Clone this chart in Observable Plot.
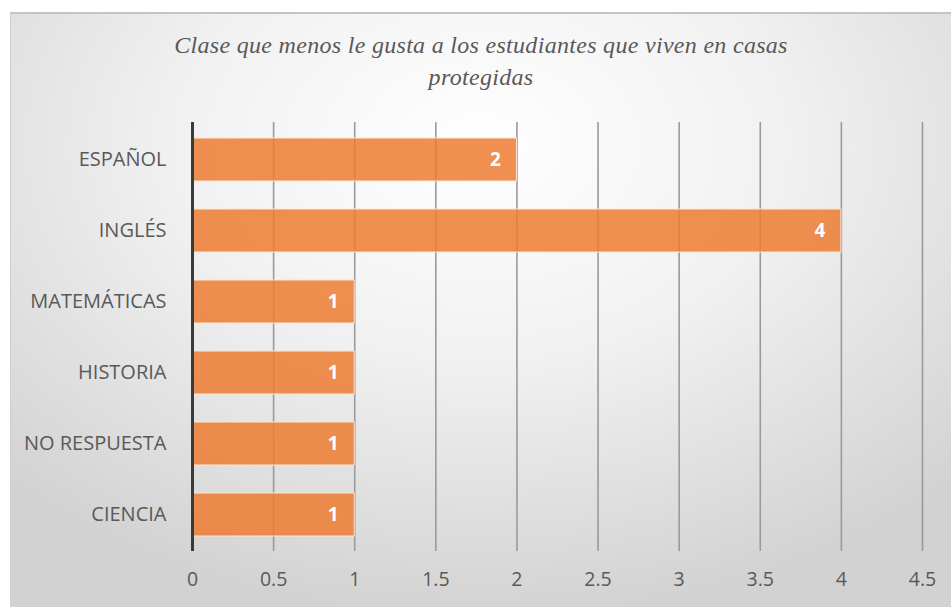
<!DOCTYPE html>
<html>
<head>
<meta charset="utf-8">
<script src="https://cdn.jsdelivr.net/npm/d3@7"></script>
<script src="https://cdn.jsdelivr.net/npm/@observablehq/plot@0.6"></script>
<style>
  html, body { margin: 0; padding: 0; background: #ffffff; }
  #frame {
    position: absolute; left: 10px; top: 12px; width: 940px; height: 594px;
    border-top: 2px solid #c4c4c4; border-left: 1px solid #cfcfcf;
    background: radial-gradient(ellipse 72% 80% at 50% 22%, #ffffff 0%, #f1f1f1 45%, #d2d2d2 100%);
    overflow: hidden;
  }
  #title {
    height: 86px; box-sizing: border-box; padding-top: 15px;
    text-align: center; font-family: "Liberation Serif", "DejaVu Serif", serif;
    font-style: italic; font-size: 24px; letter-spacing: 0.3px; line-height: 32px; color: #595959;
  }
  #chart svg { display: block; background: transparent; }
</style>
</head>
<body>
<div id="frame">
  <div id="title">Clase que menos le gusta a los estudiantes que viven en casas<br>protegidas</div>
  <div id="chart"></div>
</div>
<script>
const categories = ["ESPAÑOL", "INGLÉS", "MATEMÁTICAS", "HISTORIA", "NO RESPUESTA", "CIENCIA"];
const values = [2, 4, 1, 1, 1, 1];
const xTicks = [0, 0.5, 1, 1.5, 2, 2.5, 3, 3.5, 4, 4.5];

const data = categories.map((c, i) => ({category: c, value: values[i]}));

const chart = Plot.plot({
  width: 940,
  height: 507,
  marginLeft: 181,
  marginRight: 29,
  marginTop: 22,
  marginBottom: 56,
  style: {fontFamily: "'Open Sans', Lato, sans-serif", fontSize: "17px", color: "#595959", background: "transparent"},
  x: {domain: [0, 4.5], ticks: xTicks, tickFormat: d => String(d), label: null},
  y: {domain: categories, paddingInner: 0.4, paddingOuter: 0.2, label: null},
  marks: [
    Plot.ruleX(xTicks.filter(t => t > 0), {stroke: "#9a9a9a", strokeWidth: 1.6}),
    Plot.barX(data, {y: "category", x: "value", fill: "#ED7D31", fillOpacity: 0.85, stroke: "#fbe6d6", strokeWidth: 1}),
    Plot.ruleX([0], {stroke: "#3a3a3a", strokeWidth: 3}),
    Plot.text(data, {y: "category", x: "value", text: d => String(d.value), textAnchor: "end", dx: -16, fill: "white", fontWeight: "bold", fontSize: 19}),
    Plot.axisX({ticks: xTicks, tickSize: 0, tickPadding: 21, tickFormat: d => String(d), fill: "#595959", fontSize: 19.5, label: null}),
    Plot.axisY({tickSize: 0, tickPadding: 26, fill: "#595959", fontSize: 20, label: null})
  ]
});
document.getElementById("chart").appendChild(chart);
</script>
</body>
</html>
